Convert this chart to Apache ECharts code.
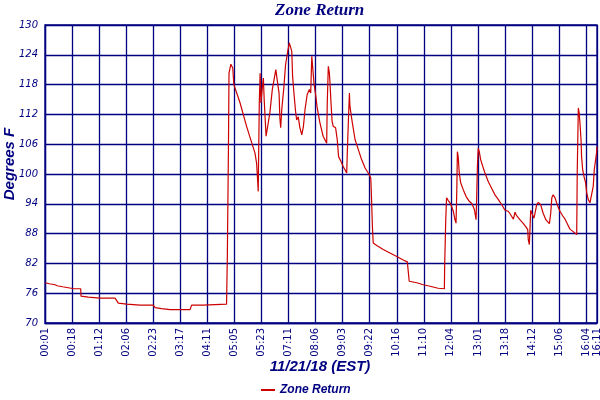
<!DOCTYPE html>
<html>
<head>
<meta charset="utf-8">
<script src="https://cdn.jsdelivr.net/npm/echarts@6/dist/echarts.min.js"></script>
<style>html,body{margin:0;padding:0;background:#fff}#c{width:600px;height:400px}</style>
</head>
<body>
<div id="c"></div>
<script>
// Tick labels (one per 10 samples, plus the final sample)
const tickLabels = ["00:01","00:18","01:12","02:06","02:23","03:17","04:11","05:05","05:23","07:11","08:06",
  "09:03","09:22","10:16","11:10","12:04","13:01","13:18","14:12","15:06","16:04"];
const lastLabel = "16:11";
const lastSample = 204;
const xAxisTitle = '11/21/18 (EST)';
const yAxisTitle = 'Degrees F';

// Sample index along the log
const sampleIdx = [0,1.6,3.7,4.5,6.5,8.6,10.7,13.2,13.3,16.0,20.3,25.9,27.1,30.2,35.1,40.0,40.7,43.1,46.2,53.6,54.2,58.5,58.8,67.1,
  67.4,67.8,68.0,68.7,69.4,69.8,72.1,74.5,77.6,78.2,78.6,78.8,79.2,79.5,79.8,80.3,80.7,81.0,81.7,82.3,83.1,84.0,85.3,85.8,86.5,86.8,87.1,87.5,
  88.3,88.9,89.7,90.3,90.9,91.2,91.5,92.0,92.6,93.0,93.6,94.2,94.9,95.5,96.1,96.9,97.7,98.2,98.6,98.9,99.4,100.1,100.6,101.6,102.8,104.1,
  104.3,104.7,105.1,105.3,105.7,106.1,106.5,107.4,108.0,108.5,109.4,110.2,111.5,111.7,112.1,112.5,112.7,113.0,113.5,114.6,115.8,117.0,
  118.3,119.8,120.4,120.6,121.0,121.3,122.6,125.0,127.5,130.0,132.4,133.9,134.3,134.6,137.4,139.8,142.3,145.3,147.6,147.7,148.1,148.4,
  149.0,149.9,150.9,151.5,151.9,152.2,152.4,152.7,153.1,153.6,154.6,155.6,156.8,157.8,158.7,159.3,159.5,159.8,160.1,160.5,161.0,161.8,
  162.6,163.8,165.1,166.3,167.5,168.8,170.0,171.2,172.1,173.1,173.7,174.3,175.5,176.8,177.8,178.4,178.6,179.0,179.2,179.5,180.2,180.7,
  181.1,181.7,182.3,183.2,184.1,185.1,186.4,186.9,187.3,187.8,188.5,189.3,190.3,191.3,192.2,193.2,194.0,195.2,196.5,196.7,197.1,197.4,
  197.7,198.1,198.3,198.7,199.2,199.8,200.2,200.8,201.4,202.0,202.6,203.0,203.5,203.9,204];
// Zone Return temperature, deg F
const zoneReturn = [78.1,77.9,77.7,77.5,77.3,77.1,76.9,76.9,75.4,75.2,75.0,75.0,74.0,73.8,73.6,73.6,73.1,72.9,72.7,72.7,73.6,73.6,73.8,73.8,
  84.0,105.6,120.3,122.1,121.3,118.0,114.3,109.6,104.2,102.2,98.5,96.5,114.6,120.3,114.3,117.3,119.3,115.0,107.6,107.9,112.3,117.0,121.0,119.0,116.3,111.3,109.3,113.0,
  117.6,122.0,124.7,126.4,126.0,124.7,119.7,116.3,112.6,110.9,111.5,109.3,107.9,109.6,113.0,116.0,117.0,116.3,123.7,123.5,118.3,115.6,113.3,110.3,107.6,106.2,
  114.0,121.7,120.3,118.6,114.3,110.6,109.6,109.3,106.9,103.5,102.5,101.5,100.2,103.9,110.3,116.3,113.6,114.0,110.6,106.9,104.9,102.9,
  101.2,99.9,99.2,96.2,89.4,86.1,85.6,84.8,84.1,83.4,82.7,82.3,82.2,78.4,78.1,77.7,77.4,77.0,76.9,81.4,90.8,95.2,
  94.7,94.0,92.5,90.8,90.1,97.1,104.5,103.5,100.2,98.3,96.8,95.5,94.5,94.0,92.8,90.8,94.5,101.5,105.2,104.5,102.9,101.5,
  100.2,98.5,97.1,95.8,94.9,93.8,92.7,92.5,91.8,90.9,92.3,91.6,90.8,90.0,89.3,88.8,86.8,85.8,88.5,92.7,92.5,91.1,
  92.1,93.8,94.3,93.8,92.1,90.8,90.0,92.1,95.2,95.8,95.2,93.8,92.5,91.6,90.9,89.8,88.9,88.4,87.8,100.5,113.3,112.3,
  110.3,106.9,103.5,100.9,99.5,98.2,96.2,94.8,94.2,94.5,97.5,100.9,102.9,104.5,105.5];

const navy = '#000080';
const chart = echarts.init(document.getElementById('c'), null, {renderer: 'canvas'});
chart.setOption({
  backgroundColor: '#ffffff',
  animation: false,
  title: {
    text: 'Zone Return', left: 270, top: -3,
    textStyle: {color: navy, fontFamily: 'Liberation Serif', fontStyle: 'italic', fontWeight: 'bold', fontSize: 17}
  },
  legend: {
    left: 256, top: 379, itemWidth: 14, itemHeight: 2, icon: 'rect', itemGap: 4,
    textStyle: {color: navy, fontFamily: 'Liberation Sans', fontStyle: 'italic', fontWeight: 'bold', fontSize: 12},
    data: ['Zone Return']
  },
  graphic: [
    {type: 'text', x: 320, y: 367, style: {text: xAxisTitle, fill: navy, align: 'center', verticalAlign: 'middle',
      font: 'italic bold 15px "Liberation Sans"'}},
    {type: 'text', x: 10, y: 164, rotation: Math.PI / 2, style: {text: yAxisTitle, fill: navy, align: 'center', verticalAlign: 'middle',
      font: 'italic bold 15px "Liberation Sans"'}}
  ],
  grid: {left: 45, right: 3, top: 25, bottom: 77, show: true, borderColor: navy, borderWidth: 1.3,
    containLabel: false, outerBoundsMode: 'none'},
  xAxis: {
    type: 'value', min: 0, max: lastSample, interval: 10,
    axisLine: {show: true, lineStyle: {color: navy, width: 1.3}},
    axisTick: {show: false},
    splitLine: {show: true, lineStyle: {color: navy, width: 1.3}},
    axisLabel: {
      rotate: 90, margin: 5, color: navy, fontFamily: 'DejaVu Sans', fontSize: 10,
      showMinLabel: true, showMaxLabel: true,
      formatter: function (v) {
        if (Math.abs(v - lastSample) < 0.01) return lastLabel;
        const i = Math.round(v / 10);
        return tickLabels[i] !== undefined ? tickLabels[i] : '';
      }
    }
  },
  yAxis: {
    type: 'value', min: 70, max: 130, interval: 6,
    axisLine: {show: true, lineStyle: {color: navy, width: 1.3}},
    axisTick: {show: false},
    splitLine: {show: true, lineStyle: {color: navy, width: 1.3}},
    axisLabel: {margin: 7, color: navy, fontFamily: 'DejaVu Sans', fontStyle: 'italic', fontSize: 10}
  },
  series: [{
    name: 'Zone Return', type: 'line', showSymbol: false, symbol: 'none',
    lineStyle: {color: '#cc0000', width: 1.2}, itemStyle: {color: '#cc0000'},
    data: sampleIdx.map((x, i) => [x, zoneReturn[i]])
  }]
});
</script>
</body>
</html>
